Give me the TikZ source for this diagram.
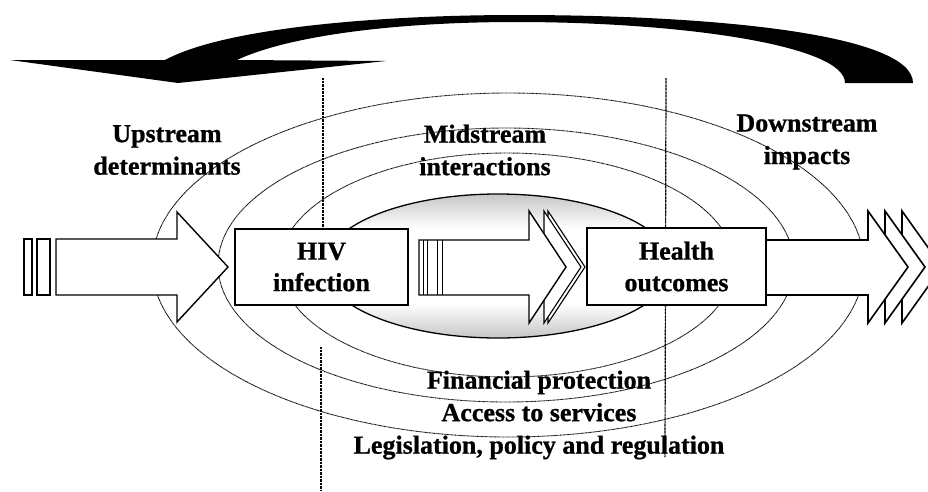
\documentclass[tikz,border=0pt]{standalone}
\usepackage{fontspec}
\setmainfont{Liberation Serif}[BoldFeatures={FakeBold=0.8}]
\pgfdeclareverticalshading{ellgrey}{100bp}{color(0bp)=(gray!45); color(25bp)=(gray!45); color(37bp)=(white); color(63bp)=(white); color(75bp)=(gray!45); color(100bp)=(gray!45)}
\tikzset{
  lbl/.style={font=\fontsize{26}{32.5}\selectfont\bfseries, align=center, inner sep=0pt},
  box/.style={draw, line width=1.5pt, fill=white, font=\fontsize{26}{31.5}\selectfont\bfseries, align=center, inner sep=0pt},
  ring/.style={line width=0.9pt, dash pattern=on 0.8pt off 0.5pt},
  divider/.style={line width=1.2pt, dash pattern=on 1pt off 0.4pt},
  blk/.style={draw, line width=1.4pt, fill=white, line join=miter},
  stripe/.style={line width=0.9pt}
}
\begin{document}
\begin{tikzpicture}[x=1pt,y=-1pt]
\clip (0,0) rectangle (928,491);
\fill[white] (0,0) rectangle (928,491);
% top feedback arrow
\fill[black] (10,60) -- (178,83) -- (386,61) -- (237,60)
  .. controls (290,35) and (400,22) .. (516,22)
  .. controls (680,22) and (845,45) .. (845,83)
  -- (913,83)
  .. controls (913,35) and (720,15) .. (516,15)
  .. controls (400,15) and (230,25) .. (165,60) -- cycle;
% dotted rings
\draw[ring] (508,265) ellipse [x radius=356, y radius=172];
\draw[ring] (506,265) ellipse [x radius=288, y radius=137];
\draw[ring] (507,265) ellipse [x radius=227, y radius=112];
% central grey ellipse
\shade[shading=ellgrey] (498,266) ellipse [x radius=174, y radius=72];
\draw[line width=1.3pt] (498,266) ellipse [x radius=174, y radius=72];
% dividers
\coordinate (d1a) at (323,78); \coordinate (d1b) at (323,232);
\coordinate (d1c) at (321,347); \coordinate (d1d) at (321,491);
\coordinate (d2a) at (666,78); \coordinate (d2b) at (665,457);
\draw[divider] (d1a) -- (d1b);
\draw[divider] (d1c) -- (d1d);
\draw[divider] (d2a) -- (d2b);
% labels
\node[lbl] (up) at (167,150) {Upstream\\determinants};
\node[lbl] (mid) at (485,150) {Midstream\\interactions};
\node[lbl] (down) at (807,142) {Downstream\\impacts};
\node[lbl] (bottom) at (539,415) {Financial protection\\Access to services\\Legislation, policy and regulation};
% left striped arrow
\draw[blk] (24,239) rectangle (32,295);
\draw[blk] (37,239) rectangle (50,295);
\draw[blk] (56,239) -- (177,239) -- (177,212) -- (228,267) -- (177,322) -- (177,295) -- (56,295) -- cycle;
% middle arrow with chevrons
\draw[blk, line width=1.1pt] (548,211) -- (585,267) -- (548,323) -- cycle;
\draw[blk, line width=1.1pt] (544,211) -- (581,267) -- (544,323) -- cycle;
\draw[blk] (419,240) -- (529,240) -- (529,211) -- (566,267) -- (529,323) -- (529,295) -- (419,295) -- cycle;
\foreach \xs in {423,427,437,442} \draw[stripe] (\xs,240) -- (\xs,295);
% right arrow with chevrons
\draw[blk, line width=1.6pt] (902,211) -- (942,267) -- (902,323) -- cycle;
\draw[blk, line width=1.6pt] (885,211) -- (925,267) -- (885,323) -- cycle;
\draw[blk, line width=1.6pt] (765,240) -- (868,240) -- (868,211) -- (908,267) -- (868,323) -- (868,295) -- (765,295) -- cycle;
% boxes
\node[box, minimum width=173pt, minimum height=76pt] (hiv) at (321.5,267) {HIV\\infection};
\node[box, minimum width=179pt, minimum height=77pt] (health) at (676.5,266.5) {Health\\outcomes};
\end{tikzpicture}
\end{document}
